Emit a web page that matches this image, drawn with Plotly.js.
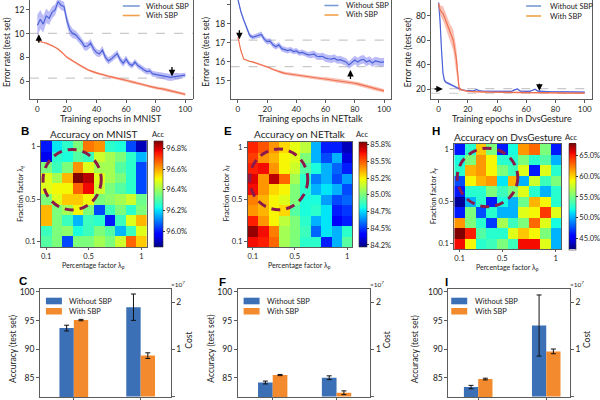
<!DOCTYPE html>
<html><head><meta charset="utf-8">
<script src="https://cdn.plot.ly/plotly-3.0.1.min.js"></script>
<style>html,body{margin:0;padding:0;background:#fff}#chart{width:600px;height:400px}</style>
</head><body><div id="chart"></div>
<script>
// ---------------- DATA ----------------
const seriesNames = ['Without SBP', 'With SBP'];
const epochs = [0,2,4,6,8,10,12,14,16,18,20,22,24,26,28,30,32,34,36,38,40,42,44,46,48,50,52,54,56,58,60,62,64,66,68,70,72,74,76,78,80,82,84,86,88,90,92,94,96,98,100];
const gEpochs = [0,1,2,3,4,5,6,7,8,9,10,11,12,13,14,15,16,18,20,22,24,26,28,30,32,34,36,38,40,42,44,46,48,50,52,54,56,58,60,62,64,66,68,70,72,74,76,78,80,82,84,86,88,90,92,94,96,98,100];

// MNIST error rate (%)
const mnistWithout = [10.7,11.2,10.8,11.5,11.3,11.8,12.0,12.7,12.4,12.3,11.1,10.3,10.0,9.9,9.6,9.3,8.9,8.95,9.2,8.7,8.4,8.3,8.6,8.0,7.7,7.85,8.1,8.3,7.8,7.5,7.85,7.45,7.3,7.6,7.3,7.1,6.95,6.8,6.85,6.6,6.55,6.5,6.45,6.4,6.35,6.3,6.35,6.4,6.4,6.5,6.5];
const mnistWithoutSd = [0.9,0.8,0.7,0.6,0.55,0.5,0.45,0.4,0.4,0.4,0.45,0.45,0.4,0.35,0.35,0.35,0.35,0.35,0.35,0.35,0.3,0.3,0.35,0.3,0.3,0.3,0.3,0.3,0.3,0.3,0.3,0.25,0.25,0.25,0.25,0.25,0.25,0.25,0.25,0.25,0.25,0.25,0.25,0.25,0.3,0.3,0.3,0.3,0.25,0.2,0.2];
const mnistWith = [9.4,9.3,9.25,9.2,9.1,9.0,8.85,8.7,8.5,8.25,8.0,7.85,7.65,7.5,7.35,7.2,7.1,6.95,6.85,6.75,6.7,6.6,6.55,6.45,6.4,6.35,6.3,6.22,6.15,6.1,6.05,6.0,5.93,5.88,5.8,5.75,5.7,5.62,5.55,5.48,5.42,5.38,5.35,5.3,5.25,5.2,5.12,5.05,5.0,4.93,4.87];
const mnistWithSd = [0.05,0.05,0.06,0.06,0.07,0.07,0.07,0.08,0.08,0.08,0.08,0.09,0.09,0.09,0.09,0.09,0.09,0.1,0.1,0.1,0.1,0.1,0.1,0.1,0.1,0.1,0.1,0.1,0.1,0.1,0.1,0.12,0.12,0.12,0.12,0.12,0.12,0.12,0.12,0.12,0.12,0.12,0.12,0.12,0.12,0.12,0.12,0.12,0.12,0.12,0.12];

// NETtalk error rate (%)
const netWithout = [19.3,18.65,18.2,17.75,17.4,17.3,17.35,17.4,17.45,17.2,17.07,17.1,16.9,16.8,16.9,16.7,16.65,16.6,16.65,16.55,16.58,16.47,16.5,16.45,16.37,16.38,16.42,16.3,16.28,16.3,16.2,16.17,16.15,16.2,16.1,16.12,16.07,16.0,15.84,15.98,16.1,16.0,16.1,16.14,16.0,16.08,15.95,16.05,16.0,15.98,16.0];
const netWithoutSd = [0.1,0.1,0.1,0.1,0.12,0.12,0.12,0.15,0.15,0.15,0.15,0.15,0.15,0.15,0.15,0.15,0.15,0.15,0.15,0.15,0.15,0.15,0.15,0.15,0.15,0.18,0.18,0.18,0.18,0.18,0.2,0.2,0.2,0.2,0.2,0.2,0.2,0.2,0.2,0.2,0.22,0.22,0.22,0.22,0.22,0.22,0.22,0.22,0.22,0.22,0.22];
const netWith = [17.3,16.6,16.15,16.08,16.03,16.0,15.95,15.9,15.85,15.8,15.75,15.68,15.6,15.55,15.48,15.44,15.4,15.38,15.36,15.33,15.32,15.3,15.27,15.24,15.21,15.2,15.17,15.15,15.13,15.12,15.11,15.08,15.06,15.03,15.01,15.0,14.98,14.96,14.93,14.9,14.88,14.85,14.81,14.77,14.72,14.67,14.62,14.58,14.54,14.51,14.48];
const netWithSd = [0.02,0.02,0.02,0.02,0.02,0.05,0.05,0.05,0.05,0.05,0.05,0.05,0.05,0.05,0.05,0.08,0.08,0.08,0.08,0.08,0.08,0.08,0.08,0.08,0.08,0.08,0.08,0.08,0.08,0.08,0.1,0.1,0.1,0.1,0.1,0.1,0.1,0.1,0.1,0.1,0.1,0.1,0.1,0.1,0.1,0.1,0.1,0.1,0.1,0.1,0.1];

// DvsGesture error rate (%)
const dvsWithout = [91,76,52,33,27,25.5,25,24.5,24,23.3,22.5,22,21.4,20.8,20.2,19.7,19.3,18.9,18.6,18.5,18.4,19.6,18.4,18.3,18.3,18.2,18.2,18.3,18.2,18.1,18.1,18.1,18.0,18.1,19.3,20.0,18.2,18.0,18.0,18.0,18.8,19.8,18.2,17.9,17.9,17.9,17.8,17.8,17.8,17.8,17.8,17.7,17.7,17.7,17.7,17.6,17.6,17.6,17.5];
const dvsWithoutSd = [1,2,3,2,1.2,1,0.8,0.8,0.8,0.8,0.8,0.8,0.8,0.8,0.8,0.8,0.8,0.5,0.5,0.5,0.5,0.5,0.5,0.5,0.5,0.5,0.5,0.5,0.5,0.5,0.5,0.5,0.5,0.5,0.5,0.5,0.5,0.5,0.5,0.5,0.5,0.5,0.5,0.5,0.5,0.5,0.5,0.5,0.5,0.5,0.5,0.5,0.5,0.5,0.5,0.5,0.5,0.5,0.5];
const dvsWith = [90,85,83,82,79,76,72,69,66,63,60,53,46,34,21,19.8,19.2,18.6,18.1,17.9,17.8,17.7,17.6,17.5,17.5,17.4,17.4,17.4,17.3,17.3,17.3,17.3,17.2,17.2,17.2,17.1,17.1,17.1,17.0,17.0,17.0,17.0,16.9,16.9,16.9,16.9,16.8,16.8,16.8,16.8,16.8,16.7,16.7,16.7,16.7,16.6,16.6,16.6,16.6];
const dvsWithSd = [1.5,4,5,6,6,6,6,6.5,7,8,8.5,9,9,8,3,1,0.8,0.6,0.6,0.6,0.6,0.6,0.6,0.6,0.6,0.6,0.6,0.6,0.6,0.6,0.6,0.6,0.6,0.6,0.6,0.6,0.6,0.6,0.6,0.6,0.6,0.6,0.6,0.6,0.6,0.6,0.6,0.6,0.6,0.6,0.6,0.6,0.6,0.6,0.6,0.6,0.6,0.6,0.6];

// heatmaps: percentage factor (x) and fraction factor (y, top row first)
const lamP = [0.1,0.2,0.3,0.4,0.5,0.6,0.7,0.8,0.9,1.0];
const lamF = [1.0,0.9,0.8,0.7,0.6,0.5,0.4,0.3,0.2,0.1];
const accMnist = [
 [96.00,96.21,96.26,96.36,96.65,96.62,96.26,96.24,96.05,95.90],
 [95.95,96.26,96.24,96.31,96.28,96.46,96.41,96.36,96.26,96.16],
 [96.36,96.28,96.36,96.62,96.48,96.41,96.41,96.31,96.26,96.05],
 [96.48,96.41,96.58,96.87,96.82,96.48,96.41,96.36,96.26,96.05],
 [96.48,96.51,96.51,96.67,96.77,96.46,96.36,96.31,96.26,96.05],
 [96.36,96.48,96.56,96.56,96.51,96.36,96.38,96.41,96.46,96.34],
 [96.58,96.36,96.41,96.51,96.36,96.05,96.28,96.36,96.26,96.36],
 [96.58,96.36,96.28,96.16,96.28,96.26,96.00,96.28,96.48,96.58],
 [96.28,96.36,96.38,96.24,96.28,96.36,96.31,96.16,96.28,96.48],
 [96.31,96.36,96.05,96.36,96.36,96.41,96.36,96.46,96.67,96.56]];
const accNet = [
 [85.59,85.51,85.40,85.29,85.21,85.13,84.69,84.46,84.46,84.30],
 [85.55,85.40,85.35,85.24,85.19,85.01,84.69,84.53,84.69,84.35],
 [85.60,85.63,85.40,85.24,85.16,84.93,84.82,84.69,84.57,84.46],
 [85.66,85.40,85.71,85.48,85.08,84.85,84.61,84.69,84.53,84.66],
 [85.63,85.40,85.29,85.24,85.01,84.85,84.69,84.77,84.69,84.53],
 [85.44,85.35,85.24,85.19,85.01,84.82,84.82,84.66,84.53,84.57],
 [85.40,85.35,85.24,85.29,84.93,84.82,84.85,84.77,84.46,84.50],
 [85.60,85.40,85.24,85.13,85.01,84.85,84.69,84.77,84.41,84.46],
 [85.76,85.63,85.44,85.08,85.01,84.88,84.57,84.77,84.69,84.85],
 [85.63,85.60,85.48,85.08,85.01,84.85,84.85,84.46,84.69,84.93]];
const accDvs = [
 [46.1,52.5,60.2,55.1,46.1,52.0,61.5,62.8,55.1,46.1],
 [52.0,55.1,61.5,58.9,52.5,52.5,55.1,52.5,53.8,50.0],
 [52.5,60.7,61.5,58.9,55.1,53.1,58.2,46.1,58.2,52.5],
 [47.4,58.9,60.7,61.5,51.3,60.7,50.0,57.7,53.1,55.1],
 [46.1,52.5,52.5,55.1,53.1,55.1,58.2,52.5,50.0,52.5],
 [42.8,50.0,52.5,46.1,52.0,50.0,54.6,60.7,58.9,52.5],
 [46.1,55.1,47.4,52.5,50.0,50.0,58.2,58.9,64.1,58.2],
 [61.5,55.1,52.5,46.9,56.4,53.1,55.1,62.8,58.2,52.0],
 [67.9,64.8,53.8,52.5,52.5,58.2,60.2,58.9,55.1,50.0],
 [65.3,58.9,52.5,53.1,55.1,53.1,65.3,65.3,58.2,50.0]];

// bars: [without SBP, with SBP]
const barCats = ['Accuracy', 'Cost'];
const accC = [93.7, 95.1], accErrC = [0.5, 0.12], costC = [1.90e7, 0.87e7], costErrC = [0.28e7, 0.06e7];
const accF = [84.2, 85.5], accErrF = [0.25, 0.1], costF = [0.40e7, 0.08e7], costErrF = [0.04e7, 0.04e7];
const accI = [83.4, 84.8], accErrI = [0.3, 0.15], costI = [1.51e7, 0.96e7], costErrI = [0.65e7, 0.05e7];

// ---------------- STYLE / LAYOUT ----------------
const FONT = 'Lato, "Open Sans", sans-serif';
const P = x => x / 600, Q = y => 1 - y / 400;
const lineBlue = '#4a63d8', bandBlue = 'rgba(105,105,238,0.45)';
const lineOrange = '#f0714f', bandOrange = 'rgba(244,118,92,0.45)';
const legBlue = '#7a9bd4', legOrange = '#efa24a';
const barBlue = '#3b6fb6', barOrange = '#f38a2e';
const jet = [[0,'#000080'],[0.11,'#0000ff'],[0.125,'#0000ff'],[0.34,'#00dbff'],[0.35,'#00e5f7'],[0.375,'#15ffe2'],[0.64,'#efff08'],[0.66,'#ffec00'],[0.89,'#ff1300'],[0.91,'#e80000'],[1,'#800000']];

const traces = [];
function bandTraces(x, y, sd, xa, ya, line, band) {
  const up = y.map((v, i) => v + sd[i]);
  const lo = y.map((v, i) => v - sd[i]);
  traces.push({type:'scatter', mode:'lines', x: x.concat(x.slice().reverse()), y: up.concat(lo.reverse()),
    fill:'toself', fillcolor: band, line:{width:0}, xaxis: xa, yaxis: ya, hoverinfo:'skip', showlegend:false});
  traces.push({type:'scatter', mode:'lines', x: x, y: y, line:{color: line, width:1.2}, xaxis: xa, yaxis: ya, showlegend:false});
}
bandTraces(epochs, mnistWithout, mnistWithoutSd, 'x', 'y', lineBlue, bandBlue);
bandTraces(epochs, mnistWith, mnistWithSd, 'x', 'y', lineOrange, bandOrange);
bandTraces(epochs, netWithout, netWithoutSd, 'x2', 'y2', lineBlue, bandBlue);
bandTraces(epochs, netWith, netWithSd, 'x2', 'y2', lineOrange, bandOrange);
bandTraces(gEpochs, dvsWithout, dvsWithoutSd, 'x3', 'y3', lineBlue, bandBlue);
bandTraces(gEpochs, dvsWith, dvsWithSd, 'x3', 'y3', lineOrange, bandOrange);

function cb(xpx, ycpx, lenpx, thick, vals, texts) {
  return {x:P(xpx), xanchor:'left', xpad:0, y:Q(ycpx), yanchor:'middle', ypad:0, len:lenpx, lenmode:'pixels',
    thickness:thick, thicknessmode:'pixels', outlinewidth:0.6, outlinecolor:'#333', ticks:'outside', ticklen:2,
    tickcolor:'#333', tickvals:vals, ticktext:texts, tickfont:{family:FONT, size:7.5, color:'#222'}};
}
traces.push({type:'heatmap', x: lamP, y: lamF, z: accMnist, xaxis:'x4', yaxis:'y4', colorscale: jet, zmin:95.85, zmax:96.87,
  colorbar: cb(154, 194, 106, 9, [96.0,96.2,96.4,96.6,96.8], ['96.0%','96.2%','96.4%','96.6%','96.8%']), hoverinfo:'skip'});
traces.push({type:'heatmap', x: lamP, y: lamF, z: accNet, xaxis:'x5', yaxis:'y5', colorscale: jet, zmin:84.22, zmax:85.79,
  colorbar: cb(359, 194.5, 105, 8, [84.25,84.5,84.75,85.0,85.25,85.5,85.75], ['84.2%','84.5%','84.7%','85.0%','85.2%','85.5%','85.8%']), hoverinfo:'skip'});
traces.push({type:'heatmap', x: lamP, y: lamF, z: accDvs, xaxis:'x6', yaxis:'y6', colorscale: jet, zmin:42.3, zmax:67.9,
  colorbar: cb(569, 196.5, 106, 7, [45,50,55,60,65], ['45.0%','50.0%','55.0%','60.0%','65.0%']), hoverinfo:'skip'});

function barTraces(acc, accErr, cost, costErr, xa, yAcc, yCost, w) {
  const cols = [barBlue, barOrange];
  const offs = [-w, 0];
  const eb = a => ({type:'data', array:a, color:'#111', thickness:1, width:2.5});
  for (let k = 0; k < 2; k++) {
    traces.push({type:'bar', x:[barCats[0]], y:[acc[k]], error_y: eb([accErr[k]]), xaxis: xa, yaxis: yAcc,
      marker:{color: cols[k], line:{width:0}}, width: w, offset: offs[k], showlegend:false, hoverinfo:'skip'});
    traces.push({type:'bar', x:[barCats[1]], y:[cost[k]], error_y: eb([costErr[k]]), xaxis: xa, yaxis: yCost,
      marker:{color: cols[k], line:{width:0}}, width: w, offset: offs[k], showlegend:false, hoverinfo:'skip'});
  }
}
barTraces(accC, accErrC, costC, costErrC, 'x7', 'y7', 'y10', 0.215);
barTraces(accF, accErrF, costF, costErrF, 'x8', 'y8', 'y11', 0.23);
barTraces(accI, accErrI, costI, costErrI, 'x9', 'y9', 'y12', 0.21);

const tf = {family: FONT, size: 8.5, color: '#222'};
const base = {showgrid:false, zeroline:false, ticks:'outside', ticklen:3, tickwidth:0.8, tickcolor:'#333', linecolor:'#333', linewidth:0.8, tickfont: tf, fixedrange:true, automargin:false};
const ax = o => Object.assign({}, base, o);
const epochTicks = [0,20,40,60,80,100];
const lamTicks = [0.1,0.5,1.0];
const hmTick = {family:FONT, size:7.5, color:'#222'};
const epTick = {family:FONT, size:8, color:'#222'};

const layout = {
  width:600, height:400, margin:{l:0,r:0,t:0,b:0}, paper_bgcolor:'#fff', plot_bgcolor:'rgba(0,0,0,0)',
  font:{family: FONT, color:'#222'}, showlegend:false, barmode:'overlay',
  xaxis:  ax({domain:[P(30),P(193)], range:[-5,105], tickvals:epochTicks, showline:true, anchor:'y', tickfont:epTick}),
  yaxis:  ax({domain:[Q(99),1], range:[4.48,12.84], tickvals:[6,8,10,12], ticksuffix:'%', showline:true, mirror:true, anchor:'x'}),
  xaxis2: ax({domain:[P(231),P(392)], range:[-5,105], tickvals:epochTicks, showline:true, anchor:'y2', tickfont:epTick}),
  yaxis2: ax({domain:[Q(99),1], range:[14.05,19.26], tickvals:[15,16,17,18,19], ticksuffix:'%', showline:true, mirror:true, anchor:'x2'}),
  xaxis3: ax({domain:[P(432),P(593)], range:[-5,105], tickvals:epochTicks, showline:true, anchor:'y3', tickfont:epTick}),
  yaxis3: ax({domain:[Q(99),1], range:[11.8,93], tickvals:[20,40,60,80], ticksuffix:'%', showline:true, mirror:true, anchor:'x3'}),
  xaxis4: ax({domain:[P(41),P(147)], range:[0.05,1.05], tickvals:lamTicks, ticktext:['0.1','0.5','1'], showline:true, mirror:true, anchor:'y4', tickfont:hmTick, ticklen:2}),
  yaxis4: ax({domain:[Q(247),Q(141)], range:[0.05,1.05], tickvals:lamTicks, ticktext:['0.1','0.5','1'], showline:true, mirror:true, anchor:'x4', tickfont:hmTick}),
  xaxis5: ax({domain:[P(248),P(353)], range:[0.05,1.05], tickvals:lamTicks, ticktext:['0.1','0.5','1'], showline:true, mirror:true, anchor:'y5', tickfont:hmTick, ticklen:2}),
  yaxis5: ax({domain:[Q(247),Q(142)], range:[0.05,1.05], tickvals:lamTicks, ticktext:['0.1','0.5','1'], showline:true, mirror:true, anchor:'x5', tickfont:hmTick}),
  xaxis6: ax({domain:[P(455),P(562)], range:[0.05,1.05], tickvals:lamTicks, ticktext:['0.1','0.5','1'], showline:true, mirror:true, anchor:'y6', tickfont:hmTick, ticklen:2}),
  yaxis6: ax({domain:[Q(249),Q(144)], range:[0.05,1.05], tickvals:lamTicks, ticktext:['0.1','0.5','1'], showline:true, mirror:true, anchor:'x6', tickfont:hmTick}),
  xaxis7: ax({domain:[P(40),P(171)], type:'category', categoryorder:'array', categoryarray:barCats, range:[-0.507,1.45], showticklabels:false, showline:true, mirror:true, anchor:'y7'}),
  yaxis7: ax({domain:[Q(397),Q(289)], range:[81.67,100.52], tickvals:[85,90,95,100], ticksuffix:'%', showline:true, anchor:'x7'}),
  yaxis10: ax({overlaying:'y7', side:'right', anchor:'x7', range:[-0.01e7,2.287e7], tickvals:[0,1e7,2e7], ticktext:['0','1','2'], showline:true}),
  xaxis8: ax({domain:[P(238),P(371)], type:'category', categoryorder:'array', categoryarray:barCats, range:[-0.55,1.53], showticklabels:false, showline:true, mirror:true, anchor:'y8'}),
  yaxis8: ax({domain:[Q(397),Q(289)], range:[81.67,100.52], tickvals:[85,90,95,100], ticksuffix:'%', showline:true, anchor:'x8'}),
  yaxis11: ax({overlaying:'y8', side:'right', anchor:'x8', range:[-0.01e7,2.287e7], tickvals:[0,1e7,2e7], ticktext:['0','1','2'], showline:true}),
  xaxis9: ax({domain:[P(449),P(571)], type:'category', categoryorder:'array', categoryarray:barCats, range:[-0.44,1.35], showticklabels:false, showline:true, mirror:true, anchor:'y9'}),
  yaxis9: ax({domain:[Q(397),Q(289)], range:[81.67,100.52], tickvals:[85,90,95,100], ticksuffix:'%', showline:true, anchor:'x9'}),
  yaxis12: ax({overlaying:'y9', side:'right', anchor:'x9', range:[-0.01e7,2.287e7], tickvals:[0,1e7,2e7], ticktext:['0','1','2'], showline:true}),
  shapes: [], annotations: []
};

const S = layout.shapes, A = layout.annotations;
function txt(x, y, text, o) {
  A.push(Object.assign({xref:'paper', yref:'paper', x:P(x), y:Q(y), text:text, showarrow:false, xanchor:'center', yanchor:'middle',
    font:{family:FONT, size:8.5, color:'#222'}}, o || {}));
}
function sz(s, extra) { return Object.assign({font:{family:FONT, size:s, color:'#222'}}, extra || {}); }

// dashed reference lines
const refLines = [['x','y',[10.02,6.25]], ['x2','y2',[17.15,15.75]], ['x3','y3',[20.3,16.5]]];
refLines.forEach(([xa, ya, vals]) => vals.forEach(v => S.push({type:'line', layer:'below', xref: xa + ' domain', yref: ya, x0:0, x1:1, y0:v, y1:v,
  line:{color:'#c9c9c9', width:1.2, dash:'dash'}})));

// arrows [xaxis, yaxis, headX, headY, tailX, tailY]
const arrows = [['x','y',1,9.95,1,9.1], ['x','y',91,6.4,91,7.3], ['x2','y2',1,17.19,1,17.75], ['x2','y2',77,15.58,77,15.02],
  ['x3','y3',2.9,20,-3.8,20], ['x3','y3',69,18.6,69,25.5]];
arrows.forEach(([xa, ya, hx, hy, tx, ty]) => A.push({xref:xa, yref:ya, axref:xa, ayref:ya, x:hx, y:hy, ax:tx, ay:ty, text:'',
  showarrow:true, arrowhead:2, arrowsize:1, arrowwidth:1.3, arrowcolor:'#000'}));

// ellipses on heatmaps
const ellipses = [['x4','y4',0.07,0.62,0.40,0.97], ['x5','y5',0.07,0.624,0.405,0.983], ['x6','y6',0.078,0.645,0.453,1.01]];
ellipses.forEach(([xa, ya, x0, x1, y0, y1]) => S.push({type:'circle', xref:xa, yref:ya, x0, x1, y0, y1,
  line:{color:'#8b1a4b', width:3, dash:'9px,6px'}}));

// legends (line style, top row)
function lineLegend(x0, x1, tx, rows) {
  const cols = [legBlue, legOrange];
  rows.forEach((ry, k) => {
    S.push({type:'line', xref:'paper', yref:'paper', x0:P(x0), x1:P(x1), y0:Q(ry), y1:Q(ry), line:{color:cols[k], width:1.6}});
    txt(tx, ry, seriesNames[k], sz(7.5, {xanchor:'left'}));
  });
}
lineLegend(123, 140, 144, [6, 15.5]);
lineLegend(325, 339, 345, [5.5, 15]);
lineLegend(527, 542, 549, [6, 16]);
function barLegend(x0, x1, tx) {
  const cols = [barBlue, barOrange];
  [[297.7,304.3,301.5],[308,314.5,311.5]].forEach(([a, b, ty], k) => {
    S.push({type:'rect', xref:'paper', yref:'paper', x0:P(x0), x1:P(x1), y0:Q(b), y1:Q(a), fillcolor:cols[k], line:{width:0}});
    txt(tx, ty, seriesNames[k], sz(7.5, {xanchor:'left'}));
  });
}
barLegend(46, 62, 67.5);
barLegend(244, 260, 265.5);
barLegend(452, 468, 474);

// axis titles and labels
txt(7, 52, 'Error rate (test set)', sz(8.5, {textangle:-90}));
txt(206, 52, 'Error rate (test set)', sz(8.5, {textangle:-90}));
txt(409, 52, 'Error rate (test set)', sz(8.5, {textangle:-90}));
txt(111.5, 118.5, 'Training epochs in MNIST', sz(9));
txt(311.5, 118.5, 'Training epochs in NETtalk', sz(9));
txt(512.5, 118.5, 'Training epochs in DvsGesture', sz(9));

txt(94, 134.5, 'Accuracy on MNIST', sz(10));
txt(300.5, 134.5, 'Accuracy on NETtalk', sz(10));
txt(508.5, 137, 'Accuracy on DvsGesture', sz(10));
txt(158, 134.5, 'Acc', sz(7.5));
txt(363, 134.5, 'Acc', sz(7.5));
txt(572, 137, 'Acc', sz(7.5));
txt(21, 194, 'Fraction factor λ<sub>f</sub>', sz(7.5, {textangle:-90}));
txt(227, 194, 'Fraction factor λ<sub>f</sub>', sz(7.5, {textangle:-90}));
txt(435, 196, 'Fraction factor λ<sub>f</sub>', sz(7.5, {textangle:-90}));
txt(94, 265, 'Percentage factor λ<sub>p</sub>', sz(7));
txt(300.5, 265, 'Percentage factor λ<sub>p</sub>', sz(7));
txt(508.5, 267, 'Percentage factor λ<sub>p</sub>', sz(7));

txt(13, 349, 'Accuracy (test set)', sz(8.5, {textangle:-90}));
txt(211, 349, 'Accuracy (test set)', sz(8.5, {textangle:-90}));
txt(416, 349, 'Accuracy (test set)', sz(8.5, {textangle:-90}));
txt(189, 340, 'Cost', sz(8.5, {textangle:-90}));
txt(388, 340, 'Cost', sz(8.5, {textangle:-90}));
txt(588, 340, 'Cost', sz(8.5, {textangle:-90}));
txt(178, 284, '×10<sup>7</sup>', sz(6.5));
txt(378, 284, '×10<sup>7</sup>', sz(6.5));
txt(578, 284, '×10<sup>7</sup>', sz(6.5));

// panel letters
const letterFont = {family:'"Liberation Sans", Arial, sans-serif', size:11.5, color:'#000'};
[['B',25,131],['E',228,131],['H',437,131],['C',23,281],['F',223,282],['I',447,282]].forEach(([t, x, y]) =>
  txt(x, y, '<b>' + t + '</b>', {font: letterFont}));

Plotly.newPlot('chart', traces, layout, {displayModeBar:false, staticPlot:true});
</script></body></html>
